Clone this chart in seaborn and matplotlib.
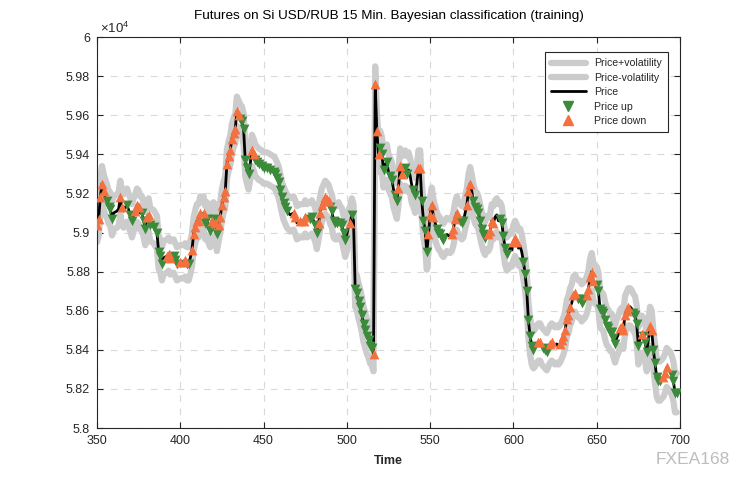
import matplotlib
matplotlib.use("Agg")
import matplotlib.pyplot as plt
import numpy as np
import pandas as pd
import seaborn as sns
from matplotlib.lines import Line2D
from matplotlib.ticker import FuncFormatter, MultipleLocator

# ---------------- data ----------------
time = [
    350, 351, 352, 353, 354, 355, 356, 357, 358, 359,
    360, 362, 363, 364, 365, 366, 367, 368, 370, 371,
    372, 373, 374, 375, 376, 377, 378, 379, 380, 381,
    382, 384, 386, 387, 388, 389, 390, 392, 393, 394,
    396, 397, 398, 400, 402, 403, 404, 405, 406, 407,
    408, 409, 410, 411, 412, 413, 414, 415, 416, 417,
    418, 419, 420, 421, 422, 423, 424, 425, 426, 427,
    428, 429, 430, 431, 432, 433, 434, 435, 436, 437,
    438, 439, 440, 441, 442, 443, 444, 445, 446, 447,
    449, 450, 452, 454, 456, 457, 458, 459, 460, 461,
    462, 463, 464, 466, 468, 469, 470, 472, 474, 475,
    476, 478, 479, 481, 482, 483, 484, 485, 486, 487,
    488, 489, 490, 491, 492, 493, 494, 495, 496, 497,
    498, 499, 500, 501, 502, 503, 504, 505, 506, 507,
    508, 509, 510, 511, 512, 513, 514, 515, 516, 517,
    518, 519, 520, 521, 522, 523, 524, 525, 526, 527,
    528, 529, 530, 531, 532, 533, 534, 535, 536, 537,
    538, 539, 540, 541, 542, 543, 544, 545, 546, 547,
    548, 549, 550, 551, 552, 553, 554, 555, 556, 557,
    558, 560, 562, 563, 564, 565, 566, 567, 568, 569,
    570, 571, 572, 573, 574, 575, 576, 577, 578, 579,
    580, 581, 582, 583, 584, 585, 586, 587, 588, 589,
    590, 591, 592, 593, 594, 595, 596, 597, 598, 599,
    600, 601, 602, 603, 604, 605, 606, 607, 608, 609,
    610, 611, 612, 613, 614, 615, 616, 617, 618, 619,
    620, 621, 622, 623, 624, 625, 626, 627, 628, 629,
    630, 631, 632, 633, 634, 635, 636, 637, 638, 639,
    640, 641, 642, 643, 644, 645, 646, 647, 648, 649,
    650, 651, 652, 653, 654, 655, 656, 657, 658, 659,
    660, 661, 662, 663, 664, 665, 666, 667, 668, 669,
    670, 671, 672, 673, 674, 675, 676, 677, 678, 679,
    680, 681, 682, 683, 684, 685, 686, 687, 688, 689,
    690, 691, 692, 693, 694, 695, 696, 697, 698,
]

price = [
    59040, 59070, 59180, 59250, 59210, 59180, 59160, 59130, 59120, 59070,
    59100, 59110, 59120, 59180, 59130, 59110, 59130, 59140, 59090, 59060,
    59090, 59110, 59140, 59130, 59100, 59100, 59060, 59020, 59080, 59090,
    59040, 59030, 59000, 58900, 58880, 58840, 58870, 58880, 58890, 58870,
    58880, 58860, 58840, 58850, 58850, 58860, 58840, 58840, 58870, 58910,
    58990, 59030, 59060, 59060, 59100, 59090, 59100, 59050, 59070, 59030,
    59010, 59060, 59070, 59050, 58990, 59040, 59080, 59140, 59180, 59210,
    59350, 59390, 59420, 59480, 59510, 59530, 59620, 59600, 59580, 59570,
    59530, 59370, 59330, 59300, 59350, 59420, 59400, 59370, 59360, 59350,
    59340, 59330, 59330, 59320, 59310, 59300, 59280, 59260, 59220, 59180,
    59150, 59130, 59110, 59090, 59100, 59080, 59050, 59060, 59060, 59080,
    59060, 59070, 59080, 59040, 59000, 59050, 59100, 59140, 59160, 59180,
    59170, 59160, 59130, 59110, 59060, 59050, 59050, 59070, 59050, 59040,
    59000, 58960, 58990, 59030, 59050, 59090, 59060, 58710, 58690, 58650,
    58620, 58580, 58530, 58500, 58470, 58450, 58420, 58410, 58380, 59760,
    59520, 59400, 59430, 59400, 59320, 59350, 59360, 59310, 59290, 59270,
    59220, 59190, 59160, 59230, 59340, 59300, 59310, 59330, 59300, 59320,
    59290, 59240, 59220, 59190, 59250, 59330, 59330, 59160, 59060, 59010,
    58900, 58990, 59090, 59140, 59080, 59050, 59020, 59000, 58990, 58970,
    58960, 58990, 58980, 58990, 59020, 59070, 59100, 59070, 59060, 59050,
    59060, 59100, 59140, 59210, 59250, 59210, 59160, 59130, 59120, 59100,
    59060, 59020, 58990, 58970, 59000, 58990, 59010, 59060, 59050, 59080,
    59090, 59060, 59070, 59050, 58980, 58920, 58890, 58900, 58920, 58910,
    58950, 58970, 58950, 58920, 58930, 58900, 58850, 58790, 58700, 58550,
    58470, 58420, 58400, 58410, 58430, 58440, 58440, 58420, 58410, 58400,
    58390, 58410, 58430, 58440, 58430, 58420, 58430, 58420, 58430, 58450,
    58470, 58500, 58560, 58580, 58620, 58640, 58680, 58690, 58670, 58660,
    58660, 58640, 58650, 58660, 58680, 58710, 58770, 58800, 58750, 58730,
    58730, 58700, 58610, 58600, 58590, 58550, 58520, 58510, 58490, 58490,
    58460, 58430, 58460, 58480, 58510, 58520, 58500, 58580, 58600, 58620,
    58620, 58610, 58590, 58580, 58530, 58420, 58460, 58480, 58470, 58440,
    58390, 58450, 58520, 58500, 58400, 58330, 58260, 58240, 58240, 58250,
    58260, 58280, 58310, 58300, 58290, 58270, 58240, 58180, 58180,
]

volatility = [
    90, 90, 90, 90, 90, 90, 85, 85, 85, 85,
    85, 85, 85, 85, 85, 85, 85, 85, 85, 85,
    85, 85, 85, 85, 85, 85, 85, 85, 85, 85,
    85, 85, 85, 85, 85, 85, 85, 85, 85, 85,
    85, 85, 85, 85, 85, 85, 85, 85, 85, 85,
    85, 85, 85, 85, 85, 85, 85, 85, 85, 85,
    85, 85, 85, 85, 85, 85, 80, 80, 80, 80,
    75, 75, 75, 75, 75, 75, 75, 75, 75, 75,
    80, 80, 80, 80, 80, 80, 80, 80, 80, 80,
    80, 80, 80, 80, 80, 80, 80, 80, 80, 80,
    85, 85, 85, 85, 85, 85, 85, 85, 85, 85,
    85, 85, 85, 85, 85, 85, 85, 85, 85, 85,
    85, 85, 85, 85, 85, 85, 85, 85, 85, 85,
    85, 85, 85, 85, 85, 85, 85, 90, 90, 90,
    90, 90, 90, 90, 90, 90, 90, 90, 90, 90,
    90, 90, 90, 90, 90, 90, 90, 90, 90, 90,
    90, 90, 90, 90, 90, 90, 90, 90, 90, 90,
    90, 90, 90, 90, 90, 90, 90, 90, 90, 90,
    90, 90, 90, 90, 90, 85, 85, 85, 85, 85,
    85, 85, 85, 85, 85, 85, 85, 85, 85, 85,
    85, 85, 85, 85, 85, 85, 85, 85, 85, 85,
    85, 85, 85, 85, 85, 85, 85, 85, 85, 85,
    85, 85, 85, 85, 85, 85, 85, 85, 85, 85,
    90, 90, 90, 90, 90, 90, 90, 90, 90, 90,
    95, 95, 95, 95, 95, 95, 95, 95, 95, 95,
    95, 95, 95, 95, 95, 95, 95, 95, 95, 95,
    95, 95, 95, 95, 95, 95, 95, 95, 95, 95,
    95, 95, 95, 95, 95, 95, 95, 95, 95, 95,
    95, 95, 95, 95, 95, 95, 95, 95, 95, 95,
    95, 95, 95, 95, 95, 95, 95, 95, 95, 95,
    95, 95, 95, 95, 95, 95, 95, 95, 95, 95,
    100, 100, 100, 100, 100, 100, 100, 100, 100, 100,
    100, 100, 100, 100, 100, 100, 100, 100, 100,
]

# u = "Price up" (green), d = "Price down" (orange), . = no marker
signal = [
    "ddddd.uuuu", "...dd..uuu", ".ddd.uuudd", "uuuuuu.ddd", "uuuddduu.d",
    "ddddd.duuu", "udududdddd", "dddddddduu", "uuuu.dduuu", "uuuuuuuuuu",
    "uuu.dd.ddd", ".uuuuddddd", "dduuuuu.uu", "uu..du.uuu", "uuuuuuuudd",
    "dduuu.u.uu", ".uuddd.uu.", "..uu.dduuu", "udddd.uuuu", "u..dddd.uu",
    "u.ddd.uuuu", "uuuu.dddd.", "..uuuuu...", "ddd...uuuu", "uuu..dd.uu",
    "u.dd....dd", "ddddd.dd.u", "uuu.ddddd.", "uuuuuuuuuu", "uu..dddddd",
    "..uuuu.duu", "u.dduuuuu.", "ddd..uuuu",
]

legend_labels = ["Price+volatility", "Price-volatility", "Price", "Price up", "Price down"]
title_text = "Futures on Si USD/RUB 15 Min. Bayesian classification (training)"
x_ticks = [350, 400, 450, 500, 550, 600, 650, 700]

# ---------------- build frame ----------------
df = pd.DataFrame({
    "time": time,
    "price": price,
    "vol": volatility,
    "signal": list("".join(signal)),
})
df["upper"] = df["price"] + df["vol"]
df["lower"] = df["price"] - df["vol"]

# ---------------- style ----------------
sns.set_theme(style="white")
plt.rcParams["font.family"] = ["Liberation Sans", "DejaVu Sans"]
plt.rcParams["mathtext.default"] = "regular"

GREY = "#cccccc"
GREEN = "#3b8b3b"
ORANGE = "#f5703f"
AXC = "#262626"

fig = plt.figure(figsize=(7.5, 4.8), dpi=100)
ax = fig.add_axes([0.1293, 0.1083, 0.7774, 0.8146])

sns.lineplot(data=df, x="time", y="upper", color=GREY, lw=4.5, ax=ax, legend=False, zorder=2)
sns.lineplot(data=df, x="time", y="lower", color=GREY, lw=4.5, ax=ax, legend=False, zorder=2)
sns.lineplot(data=df, x="time", y="price", color="black", lw=2.0, ax=ax, legend=False, zorder=3)
sns.scatterplot(data=df[df["signal"] == "u"], x="time", y="price", marker="v", s=50,
                color=GREEN, linewidth=0, ax=ax, legend=False, zorder=4)
sns.scatterplot(data=df[df["signal"] == "d"], x="time", y="price", marker="^", s=50,
                color=ORANGE, linewidth=0, ax=ax, legend=False, zorder=5)

ax.set_xlim(350, 700)
ax.set_ylim(58000, 60000)
ax.set_xticks(x_ticks)
ax.yaxis.set_major_locator(MultipleLocator(200))
ax.yaxis.set_major_formatter(FuncFormatter(lambda v, p: f"{v / 1e4:g}"))

ax.grid(True, linestyle=(0, (6, 6)), color="#d9d9d9", lw=0.8)
ax.set_axisbelow(True)
for s in ax.spines.values():
    s.set_color(AXC)
    s.set_linewidth(0.8)
    s.set_visible(True)
ax.tick_params(direction="in", length=4, width=0.8, top=True, right=True,
               bottom=True, left=True, labelsize=9, colors=AXC, pad=5)

ax.set_xlabel("Time", fontsize=9, fontweight="bold", color=AXC, labelpad=6)
ax.set_ylabel("")
ax.set_title(title_text, fontsize=9.7, color="black", pad=13)
ax.text(0.005, 1.003, r"$\times10^{4}$", transform=ax.transAxes, ha="left", va="bottom",
        fontsize=9.5, color=AXC)

handles = [
    Line2D([], [], color=GREY, lw=4.5),
    Line2D([], [], color=GREY, lw=4.5),
    Line2D([], [], color="black", lw=2.0),
    Line2D([], [], color=GREEN, marker="v", ls="none", markersize=7.5),
    Line2D([], [], color=ORANGE, marker="^", ls="none", markersize=7.5),
]
leg = ax.legend(handles, legend_labels, loc="upper right", bbox_to_anchor=(0.988, 0.974),
                fontsize=7.6, frameon=True, fancybox=False, framealpha=1,
                edgecolor=AXC, handlelength=3.3, borderpad=0.55, labelspacing=0.42,
                handletextpad=0.8)
leg.get_frame().set_linewidth(0.8)

fig.text(0.874, 0.028, "FXEA168", fontsize=12.5, color="#bdbdbd", va="bottom")

fig.savefig("out.png", dpi=100)
